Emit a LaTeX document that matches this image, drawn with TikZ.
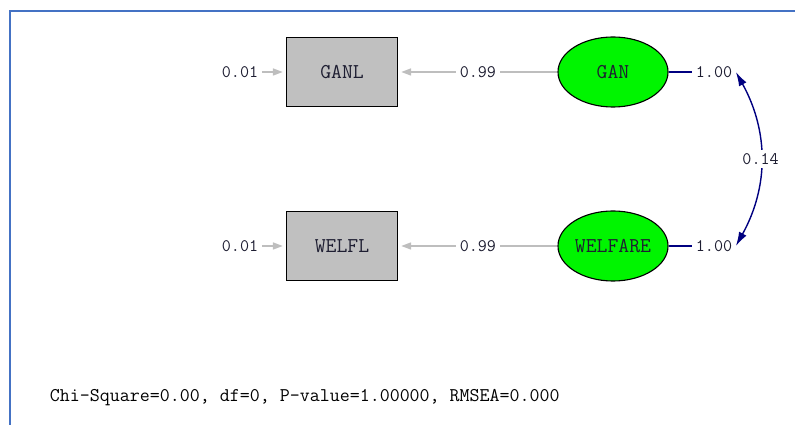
\documentclass[tikz,border=0pt]{standalone}
\usepackage{fontspec}
\usepackage{tikz}
\usetikzlibrary{shapes.geometric}
\usetikzlibrary{arrows.meta}

\definecolor{frameblue}{RGB}{68,114,196}
\definecolor{boxgray}{RGB}{192,192,192}
\definecolor{linegray}{RGB}{190,190,190}
\definecolor{latgreen}{RGB}{0,245,0}
\definecolor{covnavy}{RGB}{0,0,128}
\definecolor{textdark}{RGB}{30,30,50}

\tikzset{
    obsbox/.style={draw=black,line width=1.3pt,fill=boxgray,minimum width=2.775cm,
        minimum height=1.725cm,inner sep=0pt,text=textdark,font=\ttfamily\fontsize{15}{15}\selectfont},
    latent/.style={ellipse,draw=black,line width=0.8pt,fill=latgreen,minimum width=2.75cm,
        minimum height=1.75cm,inner sep=0pt,text=textdark,font=\ttfamily\fontsize{15}{15}\selectfont},
    numlabel/.style={inner sep=2.5pt,text=textdark,font=\ttfamily\fontsize{12.5}{12.5}\selectfont},
    grayarrow/.style={draw=linegray,line width=1pt,-{Triangle[length=7pt,width=5pt]},shorten >=2pt},
    navyline/.style={draw=covnavy,line width=1pt}
}

\begin{document}
\begin{tikzpicture}[x=0.025cm,y=-0.025cm]
    \useasboundingbox (0,0) rectangle (795,425);
    \draw[frameblue,line width=1.4pt] (10,425) -- (10,11) -- (795,11);

    \foreach \lat/\obs/\y [count=\i] in {GAN/GANL/72, WELFARE/WELFL/246} {
        \node[obsbox] (obs\i) at (342,\y) {\obs};
        \node[latent] (lat\i) at (613,\y) {\lat};
        \node[numlabel] (err\i) at (240,\y) {0.01};
        \node[numlabel] (var\i) at (714,\y) {1.00};
        \draw[grayarrow] (err\i) -- (obs\i);
        \draw[grayarrow] (lat\i) -- node[numlabel,fill=white] (load\i) {0.99} (obs\i);
        \draw[navyline] (lat\i) -- (var\i);
    };

    \draw[navyline,{Latex[length=10pt,width=6pt]}-{Latex[length=10pt,width=6pt]}]
        (var1.east) to[bend left=29] node[numlabel,fill=white] (cov) {0.14} (var2.east);

    \node[anchor=west,text=black,font=\ttfamily\fontsize{13.8}{13.8}\selectfont] (fit) at (45,398)
        {Chi-Square=0.00, df=0, P-value=1.00000, RMSEA=0.000};
\end{tikzpicture}
\end{document}
